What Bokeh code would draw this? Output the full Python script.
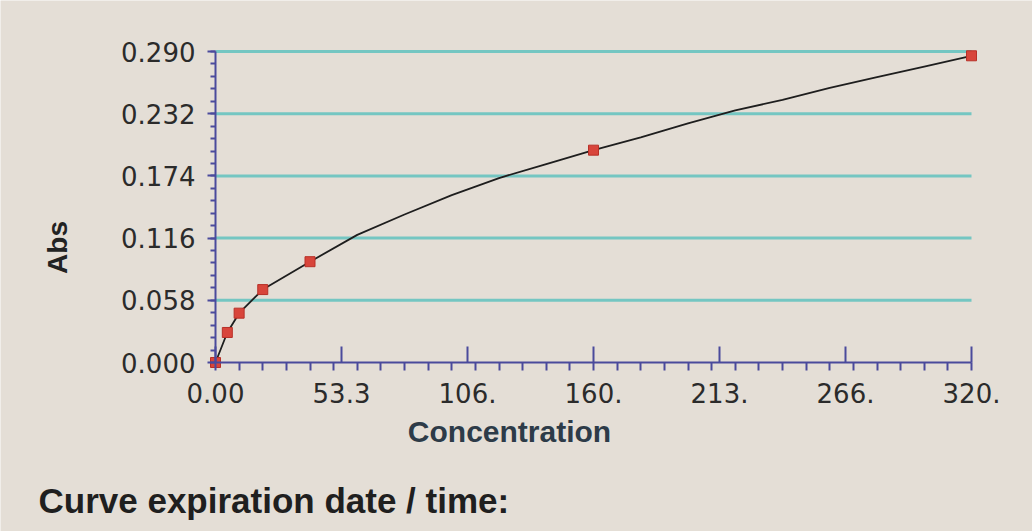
import math

from bokeh.embed import file_html
from bokeh.models import (FixedTicker, Label, LinearAxis, NumeralTickFormatter,
                          Range1d)
from bokeh.plotting import figure
from bokeh.resources import INLINE

# Calibration standards
conc = [0, 5, 10, 20, 40, 160, 320]
absorbance = [0.000, 0.028, 0.046, 0.068, 0.094, 0.198, 0.286]

# Fitted calibration curve, sampled along the concentration axis
curve_conc = [0, 5, 10, 20, 40, 60, 80, 100, 120, 140, 160, 180, 200,
              220, 240, 260, 280, 300, 320]
curve_abs = [0.000, 0.028, 0.046, 0.068, 0.094, 0.119, 0.138, 0.156, 0.172,
             0.185, 0.198, 0.210, 0.223, 0.235, 0.245, 0.256, 0.266, 0.276,
             0.286]

# Axis ticks
x_ticks = [0, 320 / 6, 640 / 6, 160, 1280 / 6, 1600 / 6, 320]
x_tick_labels = ["0.00", "53.3", "106.", "160.", "213.", "266.", "320."]
x_minor = list(range(0, 330, 10))
y_ticks = [0.000, 0.058, 0.116, 0.174, 0.232, 0.290]
y_minor = [round(i * 0.0116, 4) for i in range(26)]

BG = "#e4ded6"
AXIS = "#4a4a9c"
TEXT = "#2b2b2b"

# The plotting frame fills the whole canvas; axes sit at the data origin.
W, H = 1032, 531
X0_PX, X1_PX = 215, 971             # where 0 and 320 sit
Y0_PX, Y1_PX = 362, 51              # where 0.000 and 0.290 sit

xs = (X1_PX - X0_PX) / 320
ys = (Y0_PX - Y1_PX) / 0.29
x_range = Range1d(-X0_PX / xs, 320 + (W - X1_PX) / xs)
y_range = Range1d(-(H - Y0_PX) / ys, 0.29 + Y1_PX / ys)

p = figure(width=W, height=H, x_range=x_range, y_range=y_range,
           output_backend="svg", toolbar_location=None,
           x_axis_location=None, y_axis_location=None,
           min_border_left=0, min_border_right=0,
           min_border_top=0, min_border_bottom=0)
p.background_fill_color = BG
p.border_fill_color = BG
p.outline_line_color = None
p.grid.visible = False

# Horizontal guide lines at each labelled absorbance
p.segment(x0=[0] * (len(y_ticks) - 1), x1=[x_ticks[-1]] * (len(y_ticks) - 1),
          y0=y_ticks[1:], y1=y_ticks[1:],
          line_color="#74c6c2", line_width=3)

xaxis = LinearAxis(fixed_location=0, bounds=(0, 320))
xaxis.ticker = FixedTicker(ticks=x_ticks, minor_ticks=x_minor)
xaxis.major_label_overrides = dict(zip(x_ticks, x_tick_labels))
xaxis.major_tick_in = 16
xaxis.major_tick_out = 0
xaxis.minor_tick_in = 0
xaxis.minor_tick_out = 8
xaxis.major_label_standoff = 12

yaxis = LinearAxis(fixed_location=0, bounds=(0, 0.29))
yaxis.ticker = FixedTicker(ticks=y_ticks, minor_ticks=y_minor)
yaxis.formatter = NumeralTickFormatter(format="0.000")
yaxis.major_tick_in = 0
yaxis.major_tick_out = 8
yaxis.minor_tick_in = 0
yaxis.minor_tick_out = 5
yaxis.major_label_standoff = 12

for ax in (xaxis, yaxis):
    ax.axis_line_color = AXIS
    ax.axis_line_width = 2
    ax.major_tick_line_color = AXIS
    ax.major_tick_line_width = 2
    ax.minor_tick_line_color = AXIS
    ax.minor_tick_line_width = 2
    ax.major_label_text_font = "DejaVu Sans"
    ax.major_label_text_font_size = "26px"
    ax.major_label_text_color = TEXT

p.add_layout(xaxis, "below")
p.add_layout(yaxis, "left")

p.line(curve_conc, curve_abs, line_color="#1e1e1e", line_width=1.8)
p.scatter(conc, absorbance, marker="square", size=10,
          fill_color="#d8453b", line_color="#b83028", line_width=1)


def canvas_label(text, cx, cy, size, color, bold=True, angle=0.0,
                 align="left", baseline="alphabetic"):
    return Label(x=cx, y=H - cy, x_units="screen", y_units="screen",
                 text=text, text_font="Liberation Sans",
                 text_font_size=f"{size}px",
                 text_font_style="bold" if bold else "normal",
                 text_color=color, angle=angle,
                 text_align=align, text_baseline=baseline)


p.add_layout(canvas_label("Abs", 57, 247, 28, "#222222",
                          angle=math.pi / 2, align="center",
                          baseline="middle"))
p.add_layout(canvas_label("Concentration", 509, 431, 30, "#2d3b48",
                          align="center"))
p.add_layout(canvas_label("Curve expiration date / time:", 38, 500, 35,
                          "#1f1f1f"))

open("out.html", "w").write(file_html(p, INLINE))
